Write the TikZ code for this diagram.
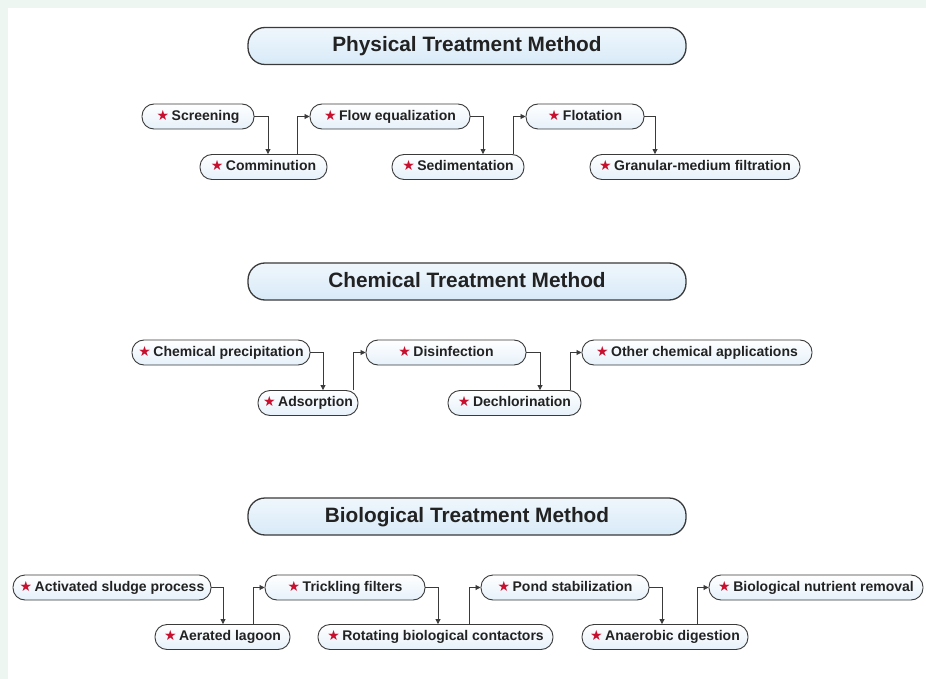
\documentclass[tikz,border=0pt]{standalone}
\usepackage{fontspec}
\setmainfont{Liberation Sans}
\newfontfamily\symfont{DejaVu Sans}
\usetikzlibrary{arrows.meta}
\definecolor{bgout}{HTML}{EEF6F2}
\definecolor{boxfill}{HTML}{E6F1FA}
\definecolor{titlefill}{HTML}{D8EAF8}
\definecolor{edge}{HTML}{3A3A3A}
\definecolor{starred}{HTML}{C8102E}
\definecolor{txt}{HTML}{222222}
\newcommand{\rstar}{{\symfont\fontsize{14}{14}\selectfont\color{starred}★}\hspace{2.5pt}}
\begin{document}
\begin{tikzpicture}[x=1pt,y=-1pt,
 item/.style={draw=edge, line width=0.9pt, top color=white, bottom color=boxfill, rounded corners=12pt, minimum height=25pt, inner xsep=4pt, inner ysep=0pt, text height=10.5pt, text depth=3pt, font=\bfseries\fontsize{14}{16}\selectfont, text=txt},
 titlebox/.style={draw=edge, line width=1.3pt, top color=white!60!titlefill, bottom color=titlefill, rounded corners=17pt, minimum width=438pt, minimum height=37pt, inner ysep=0pt, text height=15pt, text depth=4pt, font=\bfseries\fontsize{20.8}{24}\selectfont, text=txt},
 conn/.style={draw=edge, line width=0.8pt, -{Triangle[length=5pt,width=5pt]}}]
\useasboundingbox (0,0) rectangle (926,679);
\fill[bgout] (0,0) rectangle (926,679);
\fill[white] (8,8) rectangle (926,679);

% ---------- Physical ----------
\node[titlebox] (tphys) at (467,46) {Physical Treatment Method};
\node[item, minimum width=112pt] (scr) at (198,116.5) {\rstar Screening};
\node[item, minimum width=127pt] (com) at (263.5,167) {\rstar Comminution};
\node[item, minimum width=160pt] (flow) at (390,116.5) {\rstar Flow equalization};
\node[item, minimum width=132pt] (sed) at (458,167) {\rstar Sedimentation};
\node[item, minimum width=118pt] (flot) at (585,116.5) {\rstar Flotation};
\node[item, minimum width=210pt] (gran) at (695,167) {\rstar Granular-medium filtration};
\draw[conn] (scr.east) -| ([xshift=4.5pt]com.north);
\draw[conn] ([xshift=33.5pt]com.north) |- (flow.west);
\draw[conn] (flow.east) -| ([xshift=25pt]sed.north);
\draw[conn] ([xshift=55pt]sed.north) |- (flot.west);
\draw[conn] (flot.east) -| ([xshift=-40pt]gran.north);

% ---------- Chemical ----------
\node[titlebox] (tchem) at (467,281.5) {Chemical Treatment Method};
\node[item, minimum width=178pt] (cp) at (221,352.5) {\rstar Chemical precipitation};
\node[item, minimum width=100pt] (ads) at (308,403) {\rstar Adsorption};
\node[item, minimum width=160pt] (dis) at (446,352.5) {\rstar Disinfection};
\node[item, minimum width=133pt] (dech) at (514.5,403) {\rstar Dechlorination};
\node[item, minimum width=230pt] (oth) at (697,352.5) {\rstar Other chemical applications};
\draw[conn] (cp.east) -| ([xshift=15pt]ads.north);
\draw[conn] ([xshift=45pt]ads.north) |- (dis.west);
\draw[conn] (dis.east) -| ([xshift=25.5pt]dech.north);
\draw[conn] ([xshift=55.5pt]dech.north) |- (oth.west);

% ---------- Biological ----------
\node[titlebox] (tbio) at (467,516.5) {Biological Treatment Method};
\node[item, minimum width=198pt] (asp) at (112,587.5) {\rstar Activated sludge process};
\node[item, minimum width=135pt] (aer) at (222.5,637) {\rstar Aerated lagoon};
\node[item, minimum width=160pt] (tri) at (345,587.5) {\rstar Trickling filters};
\node[item, minimum width=235pt] (rbc) at (435.5,637) {\rstar Rotating biological contactors};
\node[item, minimum width=168pt] (pond) at (565,587.5) {\rstar Pond stabilization};
\node[item, minimum width=166pt] (ana) at (665,637) {\rstar Anaerobic digestion};
\node[item, minimum width=214pt] (bnr) at (816,587.5) {\rstar Biological nutrient removal};
\draw[conn] (asp.east) -| ([xshift=0.5pt]aer.north);
\draw[conn] ([xshift=30.5pt]aer.north) |- (tri.west);
\draw[conn] (tri.east) -| ([xshift=2.5pt]rbc.north);
\draw[conn] ([xshift=33.5pt]rbc.north) |- (pond.west);
\draw[conn] (pond.east) -| ([xshift=-3pt]ana.north);
\draw[conn] ([xshift=32pt]ana.north) |- (bnr.west);
\end{tikzpicture}
\end{document}
